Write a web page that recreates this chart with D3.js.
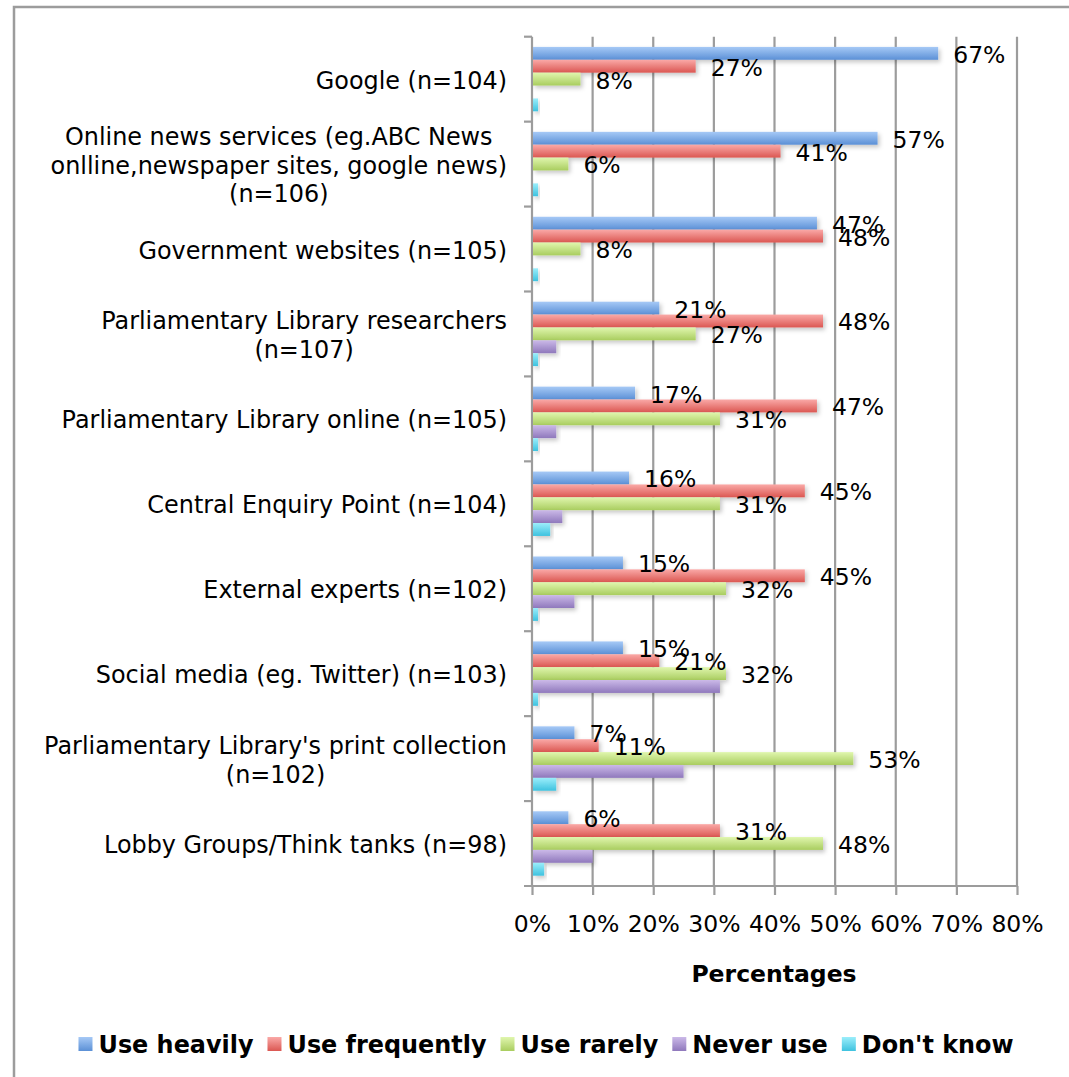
<!DOCTYPE html>
<html>
<head>
<meta charset="utf-8">
<script src="https://cdn.jsdelivr.net/npm/d3@7"></script>
<style>
  body { margin: 0; background: #fff; }
  text { font-family: "DejaVu Sans", Verdana, sans-serif; fill: #000; }
</style>
</head>
<body>
<svg id="chart" width="1069" height="1077"></svg>
<script>
// categories, top to bottom (label lines)
const categories = [
  ['Google (n=104)'],
  ['Online news services (eg.ABC News', 'onlline,newspaper sites, google news)', '(n=106)'],
  ['Government websites (n=105)'],
  ['Parliamentary Library researchers', '(n=107)'],
  ['Parliamentary Library online (n=105)'],
  ['Central Enquiry Point (n=104)'],
  ['External experts (n=102)'],
  ['Social media (eg. Twitter) (n=103)'],
  ["Parliamentary Library's print collection", '(n=102)'],
  ['Lobby Groups/Think tanks (n=98)']
];
const seriesNames = ['Use heavily', 'Use frequently', 'Use rarely', 'Never use', "Don't know"];
const useHeavily    = [67, 57, 47, 21, 17, 16, 15, 15, 7, 6];
const useFrequently = [27, 41, 48, 48, 47, 45, 45, 21, 11, 31];
const useRarely     = [8, 6, 8, 27, 31, 31, 32, 32, 53, 48];
const neverUse      = [0, 0, 0, 4, 4, 5, 7, 31, 25, 10];
const dontKnow      = [1, 1, 1, 1, 1, 3, 1, 1, 4, 2];
const xTicks = [0, 10, 20, 30, 40, 50, 60, 70, 80];
const labelledSeries = ['Use heavily', 'Use frequently', 'Use rarely'];

const seriesValues = [useHeavily, useFrequently, useRarely, neverUse, dontKnow];
const colors = [
  ['#a6c9f6', '#5b90d6'],
  ['#faa9a7', '#db5752'],
  ['#e0f6ae', '#a9cd5f'],
  ['#cbb9e8', '#8f78bc'],
  ['#9beefb', '#3ec2df']
];

const fontSize = 23.5;
const catFont = 23.9;
const legendFont = 23.9;
const svg = d3.select('#chart');

// frame
svg.append('rect')
  .attr('x', 14).attr('y', 7)
  .attr('width', 1200).attr('height', 1200)
  .attr('fill', 'none')
  .attr('stroke', '#9c9c9c')
  .attr('stroke-width', 2.5);

const defs = svg.append('defs');
colors.forEach((c, i) => {
  const g = defs.append('linearGradient')
    .attr('id', 'grad' + i)
    .attr('x1', 0).attr('y1', 0).attr('x2', 0).attr('y2', 1);
  g.append('stop').attr('offset', '0%').attr('stop-color', c[0]);
  g.append('stop').attr('offset', '100%').attr('stop-color', c[1]);
});
defs.append('filter')
  .attr('id', 'shadow')
  .attr('x', '-10%').attr('y', '-30%').attr('width', '130%').attr('height', '190%')
  .append('feDropShadow')
  .attr('dx', 2).attr('dy', 2.5)
  .attr('stdDeviation', 2)
  .attr('flood-color', '#000')
  .attr('flood-opacity', 0.22);

const x = d3.scaleLinear().domain([0, 80]).range([532, 1017]);
const y = d3.scaleBand().domain(d3.range(categories.length)).range([36.7, 886]);
const ySub = d3.scaleBand().domain(seriesNames).range([10.2, 74.6]);

// gridlines
svg.append('g')
  .selectAll('line')
  .data(xTicks.slice(1))
  .join('line')
  .attr('x1', d => x(d)).attr('x2', d => x(d))
  .attr('y1', 36.7).attr('y2', 886)
  .attr('stroke', '#9c9c9c')
  .attr('stroke-width', 2.2);

// x axis
const xAxis = d3.axisBottom(x)
  .tickValues(xTicks)
  .tickFormat(d => d + '%')
  .tickSize(9)
  .tickPadding(20)
  .tickSizeOuter(0);

const gx = svg.append('g')
  .attr('transform', 'translate(0,886)')
  .call(xAxis);
gx.select('.domain').remove();
gx.append('line')
  .attr('x1', 524).attr('x2', x(80))
  .attr('stroke', '#9c9c9c').attr('stroke-width', 2.2);
gx.selectAll('.tick line').attr('stroke', '#9c9c9c').attr('stroke-width', 2.2);
gx.selectAll('.tick text')
  .attr('font-size', fontSize)
  .attr('font-family', '"DejaVu Sans", Verdana, sans-serif')
  .attr('fill', '#000');

// y axis line + ticks
const yAxis = svg.append('g');
yAxis.append('line')
  .attr('x1', 532).attr('x2', 532)
  .attr('y1', 36.7).attr('y2', 886)
  .attr('stroke', '#9c9c9c').attr('stroke-width', 2.2);
yAxis.selectAll('.ytick')
  .data(d3.range(categories.length))
  .join('line')
  .attr('class', 'ytick')
  .attr('x1', 524).attr('x2', 532)
  .attr('y1', d => y(d)).attr('y2', d => y(d))
  .attr('stroke', '#9c9c9c').attr('stroke-width', 2.2);

// category labels
const lineH = 28.6;
categories.forEach((lines, i) => {
  const cy = y(i) + y.bandwidth() / 2 + 1;
  const t = svg.append('text')
    .attr('font-size', catFont)
    .attr('text-anchor', 'middle');
  lines.forEach((ln, j) => {
    t.append('tspan')
      .attr('y', cy + (j - (lines.length - 1) / 2) * lineH + catFont * 0.36)
      .text(ln);
  });
  const w = d3.max(t.selectAll('tspan').nodes(), n => n.getComputedTextLength());
  t.selectAll('tspan').attr('x', 507 - w / 2);
});

// bars
const rows = [];
categories.forEach((c, i) => {
  seriesNames.forEach((s, k) => {
    rows.push({cat: i, series: s, k: k, value: seriesValues[k][i]});
  });
});

svg.append('g')
  .selectAll('rect')
  .data(rows.filter(d => d.value > 0))
  .join('rect')
  .attr('x', x(0) + 1)
  .attr('y', d => y(d.cat) + ySub(d.series))
  .attr('width', d => x(d.value) - x(0) - 1)
  .attr('height', ySub.bandwidth())
  .attr('fill', d => 'url(#grad' + d.k + ')')
  .attr('filter', 'url(#shadow)');

// data labels
svg.append('g')
  .selectAll('text')
  .data(rows.filter(d => labelledSeries.includes(d.series)))
  .join('text')
  .attr('x', d => x(d.value) + 15)
  .attr('y', d => y(d.cat) + ySub(d.series) + ySub.bandwidth() / 2 + fontSize * 0.36 + 1)
  .attr('font-size', fontSize)
  .text(d => d.value + '%');

// axis title
svg.append('text')
  .attr('x', 774)
  .attr('y', 982)
  .attr('text-anchor', 'middle')
  .attr('font-size', fontSize)
  .attr('font-weight', 'bold')
  .text('Percentages');

// legend
const legend = svg.append('g');
const items = legend.selectAll('g')
  .data(seriesNames)
  .join('g');
items.append('rect')
  .attr('width', 14).attr('height', 14)
  .attr('y', -16)
  .attr('fill', (d, i) => 'url(#grad' + i + ')');
items.append('text')
  .attr('x', 20)
  .attr('font-size', legendFont)
  .attr('font-weight', 'bold')
  .text(d => d);
let cursor = 0;
items.each(function () {
  const tw = d3.select(this).select('text').node().getComputedTextLength();
  d3.select(this).attr('transform', 'translate(' + cursor + ',0)');
  cursor += 20 + tw + 14;
});
const totalW = cursor - 14;
legend.attr('transform', 'translate(' + (546 - totalW / 2) + ',1053)');
</script>
</body>
</html>
